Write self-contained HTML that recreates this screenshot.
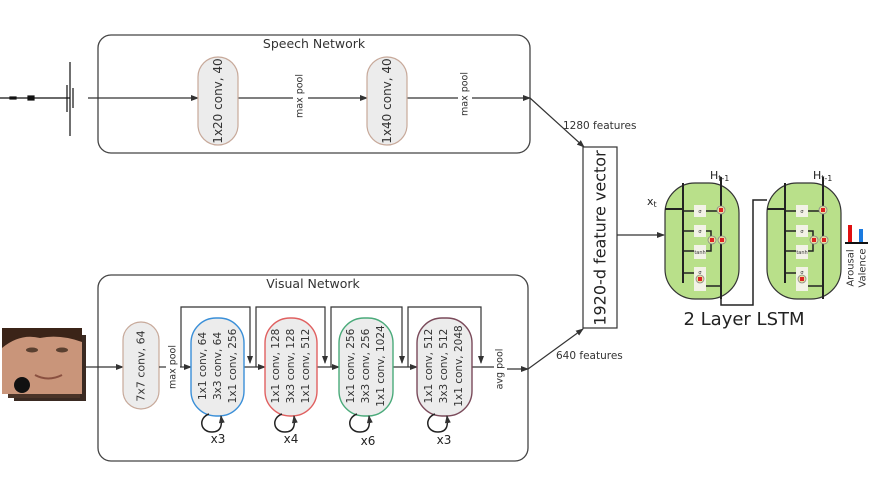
<!DOCTYPE html>
<html><head><meta charset="utf-8"><style>
html,body{margin:0;padding:0;background:#fff;}
svg{display:block;font-family:"DejaVu Sans","Liberation Sans",sans-serif;}
</style></head><body>
<svg width="872" height="491" viewBox="0 0 872 491" xmlns="http://www.w3.org/2000/svg">
<defs>
<marker id="a" markerWidth="8" markerHeight="6" refX="7" refY="3" orient="auto" markerUnits="userSpaceOnUse"><path d="M0,0 L8,3 L0,6 z" fill="#333"/></marker>
<g id="cell">
  <rect x="0" y="0" width="74" height="116" rx="30" fill="#b9e08a" stroke="#333" stroke-width="1.2"/>
  <line x1="18" y1="0" x2="18" y2="100" stroke="#222" stroke-width="2"/>
  <line x1="56" y1="-6" x2="56" y2="116" stroke="#222" stroke-width="2"/>
  <line x1="0" y1="26" x2="18" y2="26" stroke="#222" stroke-width="2"/>
  <g stroke="#222" stroke-width="1.5" fill="none">
    <path d="M18,28 H30 M40,28 H56"/>
    <path d="M18,48 H30 M40,48 H46 V57"/>
    <path d="M18,68 H30 M40,68 H46 V57"/>
    <path d="M18,90 H30 M40,103 H56"/>
  </g>
  <g fill="#f2f2e6"><rect x="29" y="22" width="12" height="12"/><rect x="29" y="42" width="12" height="12"/><rect x="29" y="62" width="12" height="14"/><rect x="29" y="84" width="12" height="24"/></g>
  <g font-size="5" fill="#333" text-anchor="middle"><text x="35" y="30">σ</text><text x="35" y="50">σ</text><text x="35" y="71">tanh</text><text x="35" y="91">σ</text></g>
  <g fill="#e6e0a0" stroke="#888" stroke-width="0.8"><circle cx="56" cy="27" r="4"/><circle cx="47" cy="57" r="4"/><circle cx="57" cy="57" r="4"/><circle cx="35" cy="96" r="4"/></g>
  <g fill="#d22"><rect x="54" y="25" width="4" height="4"/><rect x="45" y="55" width="4" height="4"/><rect x="55" y="55" width="4" height="4"/><rect x="33" y="94" width="4" height="4"/></g>
</g>
</defs>

<!-- Speech network -->
<rect x="98" y="35" width="432" height="118" rx="13" fill="#fff" stroke="#444" stroke-width="1.3"/>
<text x="314" y="48" font-size="12.5" text-anchor="middle" fill="#333">Speech Network</text>
<g stroke="#111" stroke-width="1.2">
  <line x1="0" y1="98" x2="70" y2="98"/>
  <line x1="70" y1="62" x2="70" y2="136"/><line x1="67" y1="85" x2="67" y2="112"/><line x1="73" y1="88" x2="73" y2="108"/>
  <rect x="28" y="96" width="6" height="4" fill="#111"/><rect x="10" y="97" width="6" height="2" fill="#111"/>
</g>
<line x1="88" y1="98" x2="198" y2="98" stroke="#333" stroke-width="1.2" marker-end="url(#a)"/>
<line x1="238" y1="98" x2="293" y2="98" stroke="#333" stroke-width="1.2"/>
<line x1="308" y1="98" x2="367" y2="98" stroke="#333" stroke-width="1.2" marker-end="url(#a)"/>
<line x1="407" y1="98" x2="458" y2="98" stroke="#333" stroke-width="1.2"/>
<line x1="472" y1="98" x2="530" y2="98" stroke="#333" stroke-width="1.2" marker-end="url(#a)"/>
<rect x="198" y="57" width="40" height="88" rx="20" fill="#ececec" stroke="#c7a99a" stroke-width="1.2"/>
<rect x="367" y="57" width="40" height="88" rx="20" fill="#ececec" stroke="#c7a99a" stroke-width="1.2"/>
<g dominant-baseline="central" text-anchor="middle" fill="#333">
<text transform="translate(218,101) rotate(-90)" font-size="12">1x20 conv, 40</text>
<text transform="translate(387,101) rotate(-90)" font-size="12">1x40 conv, 40</text>
<text transform="translate(300,96) rotate(-90)" font-size="9.5">max pool</text>
<text transform="translate(465,94) rotate(-90)" font-size="9.5">max pool</text>
</g>

<line x1="530" y1="98" x2="584" y2="147" stroke="#333" stroke-width="1.2" marker-end="url(#a)"/>
<text x="563" y="129" font-size="10.5" fill="#333">1280 features</text>

<!-- feature vector -->
<rect x="583" y="147" width="34" height="181" fill="#fff" stroke="#333" stroke-width="1.2"/>
<text transform="translate(600,238) rotate(-90)" font-size="16" text-anchor="middle" dominant-baseline="central" fill="#222">1920-d feature vector</text>

<!-- Visual network -->
<rect x="98" y="275" width="430" height="186" rx="13" fill="#fff" stroke="#444" stroke-width="1.3"/>
<text x="313" y="288" font-size="12.5" text-anchor="middle" fill="#333">Visual Network</text>
<!-- face -->
<rect x="14" y="335" width="72" height="66" fill="#3a2a22"/>
<rect x="8" y="332" width="72" height="66" fill="#4a3428"/>
<rect x="2" y="328" width="80" height="66" fill="#c9957a"/>
<path d="M2,328 H82 V342 Q60,334 40,338 Q20,333 2,348 Z" fill="#3b2418"/>
<ellipse cx="32" cy="350" rx="6" ry="2.5" fill="#5a4030"/><ellipse cx="62" cy="350" rx="6" ry="2.5" fill="#5a4030"/>
<path d="M35,375 Q48,382 62,375" stroke="#8a5040" stroke-width="2" fill="none"/>
<circle cx="22" cy="385" r="8" fill="#111"/>
<line x1="86" y1="367" x2="123" y2="367" stroke="#333" stroke-width="1.2" marker-end="url(#a)"/>
<rect x="123" y="322" width="36" height="87" rx="18" fill="#ececec" stroke="#c7a99a" stroke-width="1.2"/>
<line x1="159" y1="367" x2="166" y2="367" stroke="#333" stroke-width="1.2"/>
<line x1="180" y1="367" x2="191" y2="367" stroke="#333" stroke-width="1.2" marker-end="url(#a)"/>
<g stroke="#333" stroke-width="1.2" fill="none">
  <path d="M181,367 V307 H250 V363" marker-end="url(#a)"/>
  <path d="M256,367 V307 H325 V363" marker-end="url(#a)"/>
  <path d="M331,367 V307 H402 V363" marker-end="url(#a)"/>
  <path d="M408,367 V307 H481 V363" marker-end="url(#a)"/>
  <line x1="244" y1="367" x2="265" y2="367" marker-end="url(#a)"/>
  <line x1="317" y1="367" x2="339" y2="367" marker-end="url(#a)"/>
  <line x1="393" y1="367" x2="417" y2="367" marker-end="url(#a)"/>
  <line x1="472" y1="367" x2="494" y2="367"/>
  <line x1="507" y1="369" x2="528" y2="369" marker-end="url(#a)"/>
</g>
<rect x="191" y="318" width="53" height="98" rx="25" fill="#ececec" stroke="#3a8fd8" stroke-width="1.4"/>
<rect x="265" y="318" width="52" height="98" rx="25" fill="#ececec" stroke="#e06060" stroke-width="1.4"/>
<rect x="339" y="318" width="54" height="98" rx="25" fill="#ececec" stroke="#4aaa7a" stroke-width="1.4"/>
<rect x="417" y="318" width="55" height="98" rx="25" fill="#ececec" stroke="#7a4a5a" stroke-width="1.4"/>
<g font-size="10.5" fill="#333" text-anchor="middle" dominant-baseline="central">
  <text transform="translate(141,366) rotate(-90)" font-size="11">7x7 conv, 64</text>
  <text transform="translate(173,367) rotate(-90)" font-size="9.5">max pool</text>
  <text transform="translate(500,369) rotate(-90)" font-size="9.5">avg pool</text>
  <text transform="translate(203,366) rotate(-90)">1x1 conv, 64</text>
  <text transform="translate(218,366) rotate(-90)">3x3 conv, 64</text>
  <text transform="translate(233,366) rotate(-90)">1x1 conv, 256</text>
  <text transform="translate(276,366) rotate(-90)">1x1 conv, 128</text>
  <text transform="translate(291,366) rotate(-90)">3x3 conv, 128</text>
  <text transform="translate(306,366) rotate(-90)">1x1 conv, 512</text>
  <text transform="translate(351,366) rotate(-90)">1x1 conv, 256</text>
  <text transform="translate(366,366) rotate(-90)">3x3 conv, 256</text>
  <text transform="translate(381,366) rotate(-90)">1x1 conv, 1024</text>
  <text transform="translate(429,366) rotate(-90)">1x1 conv, 512</text>
  <text transform="translate(444,366) rotate(-90)">3x3 conv, 512</text>
  <text transform="translate(459,366) rotate(-90)">1x1 conv, 2048</text>
</g>
<g stroke="#222" stroke-width="1.5" fill="none">
  <path d="M209,414 C198,418 200,432 212,432 C222,432 222,424 221,416" marker-end="url(#a)"/>
  <path d="M282,414 C271,418 273,432 285,432 C295,432 295,424 294,416" marker-end="url(#a)"/>
  <path d="M357,414 C346,418 348,432 360,432 C370,432 370,424 369,416" marker-end="url(#a)"/>
  <path d="M435,414 C424,418 426,432 438,432 C448,432 448,424 447,416" marker-end="url(#a)"/>
</g>
<g font-size="12" fill="#222" text-anchor="middle"><text x="218" y="443">x3</text><text x="291" y="443">x4</text><text x="368" y="445">x6</text><text x="444" y="444">x3</text></g>
<line x1="528" y1="369" x2="583" y2="329" stroke="#333" stroke-width="1.2" marker-end="url(#a)"/>
<text x="556" y="359" font-size="10.5" fill="#333">640 features</text>

<!-- LSTM -->
<line x1="617" y1="235" x2="664" y2="235" stroke="#333" stroke-width="1.2" marker-end="url(#a)"/>
<use href="#cell" x="665" y="183"/>
<use href="#cell" x="767" y="183"/>
<path d="M721,299 V305 H753 V200 H767" fill="none" stroke="#222" stroke-width="1.5"/>
<text x="647" y="205" font-size="11" fill="#222">x<tspan font-size="8" dy="2">t</tspan></text>
<text x="710" y="179" font-size="11" fill="#222">H<tspan font-size="8" dy="2">t-1</tspan></text>
<text x="813" y="179" font-size="11" fill="#222">H<tspan font-size="8" dy="2">t-1</tspan></text>
<text x="744" y="325" font-size="18" text-anchor="middle" fill="#222">2 Layer LSTM</text>
<rect x="848" y="225" width="4" height="18" fill="#e01010"/>
<rect x="859" y="229" width="4" height="14" fill="#1a7ae0"/>
<line x1="845" y1="243" x2="868" y2="243" stroke="#111" stroke-width="2"/>
<g font-size="10" text-anchor="middle" dominant-baseline="central" fill="#333">
<text transform="translate(851,268) rotate(-90)">Arousal</text>
<text transform="translate(863,268) rotate(-90)">Valence</text>
</g>
</svg>
</body></html>
